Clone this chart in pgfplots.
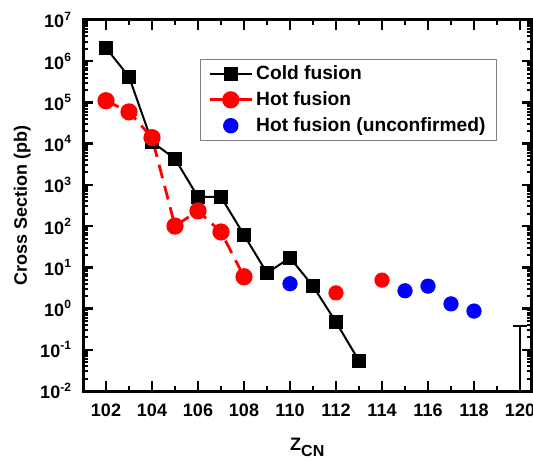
\documentclass[border=0pt]{standalone}
\usepackage{fontspec}
\setmainfont{Liberation Sans}
\usepackage{pgfplots}
\pgfplotsset{compat=1.18}

\begin{document}
\begin{tikzpicture}[font=\bfseries\fontsize{9}{11}\selectfont]
\begin{axis}[
    scale only axis,
    width=224.25pt, height=185.5pt,
    ymode=log,
    xmin=101, xmax=120.5,
    ymin=1e-2, ymax=1e7,
    xtick={102,104,...,120},
    minor x tick num=1,
    ytick={1e-2,1e-1,1,10,100,1e3,1e4,1e5,1e6,1e7},
    yticklabels={10\textsuperscript{-2},10\textsuperscript{-1},10\textsuperscript{0},10\textsuperscript{1},10\textsuperscript{2},10\textsuperscript{3},10\textsuperscript{4},10\textsuperscript{5},10\textsuperscript{6},10\textsuperscript{7}},
    minor ytick={2e-2,3e-2,4e-2,5e-2,6e-2,7e-2,8e-2,9e-2,
                 2e-1,3e-1,4e-1,5e-1,6e-1,7e-1,8e-1,9e-1,
                 2,3,4,5,6,7,8,9,
                 20,30,40,50,60,70,80,90,
                 200,300,400,500,600,700,800,900,
                 2e3,3e3,4e3,5e3,6e3,7e3,8e3,9e3,
                 2e4,3e4,4e4,5e4,6e4,7e4,8e4,9e4,
                 2e5,3e5,4e5,5e5,6e5,7e5,8e5,9e5,
                 2e6,3e6,4e6,5e6,6e6,7e6,8e6,9e6},
    tick pos=both,
    tick align=inside,
    major tick length=5pt,
    minor tick length=2.5pt,
    every major tick/.append style={line width=1.2pt, black},
    every minor tick/.append style={line width=1pt, black},
    axis line style={line width=1.5pt},
    /pgf/number format/assume math mode=true,
    xticklabel style={yshift=-3pt},
    yticklabel style={xshift=-2pt},
    xlabel={Z\raisebox{-3pt}{\fontsize{8}{9}\selectfont CN}},
    ylabel={Cross Section (pb)},
    xlabel style={yshift=-4pt},
    ylabel style={yshift=-2pt},
    legend cell align=left,
    legend style={at={(0.2606,0.895)}, anchor=north west, draw=gray, line width=0.5pt,
        inner xsep=4pt, inner ysep=2pt, row sep=2.5pt,
        nodes={inner xsep=1.5pt, inner ysep=1pt},
        font=\bfseries\fontsize{9.6}{11}\selectfont},
    legend image code/.code={
        \draw[mark repeat=2, mark phase=2, #1] plot coordinates {(0pt,0pt) (10.5pt,0pt) (21pt,0pt)};},
]
% cold fusion
\addplot[black, line width=1pt, mark=square*, mark size=3.1pt, mark options={solid}]
  coordinates {(102,2.1e6) (103,4.2e5) (104,1.1e4) (105,4.3e3) (106,510) (107,510)
               (108,61) (109,7.3) (110,17) (111,3.5) (112,0.47) (113,0.054)};
\addlegendentry{Cold fusion}
% hot fusion
\addplot[red, line width=1.4pt, dash pattern=on 7pt off 4pt, mark=*, mark size=3.6pt, mark options={solid},
         legend image post style={solid}]
  coordinates {(102,1.1e5) (103,5.9e4) (104,1.4e4) (105,100) (106,234) (107,72) (108,5.9)};
\addlegendentry{Hot fusion}
\addplot[red, only marks, mark=*, mark size=3.6pt, forget plot]
  coordinates {(112,2.4) (114,4.9)};
% hot fusion unconfirmed
\addplot[blue, only marks, mark=*, mark size=3.6pt]
  coordinates {(110,4.0) (115,2.7) (116,3.5) (117,1.3) (118,0.87)};
\addlegendentry{Hot fusion (unconfirmed)}
% upper limit for Z=120
\addplot[black, line width=1.3pt, forget plot]
  coordinates {(119.7,0.38) (120,0.38) (120,0.01) (120,0.38) (120.3,0.38)};
\end{axis}
\pgfresetboundingbox
\path[use as bounding box] (-41.5pt,-34.5pt) rectangle (225pt,195.5pt);
\end{tikzpicture}
\end{document}
